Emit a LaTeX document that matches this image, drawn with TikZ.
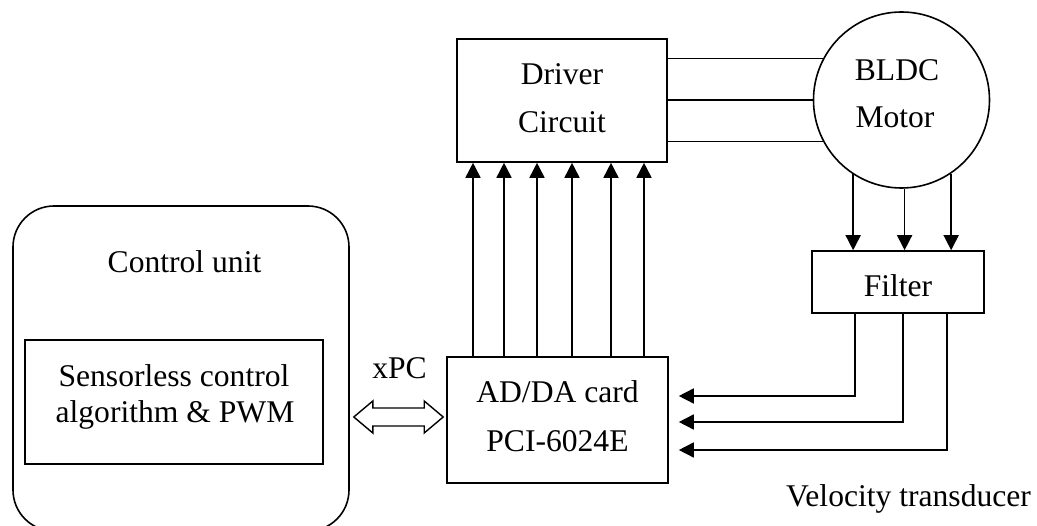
\documentclass[tikz,border=0pt]{standalone}
\usepackage{fontspec}
\setmainfont{Liberation Serif}
\usetikzlibrary{arrows.meta,calc}
\begin{document}
\begin{tikzpicture}[x=1pt,y=-1pt,
  box/.style={draw,line width=1.6pt,rectangle,inner sep=0pt},
  lbl/.style={anchor=base,inner sep=0pt,font=\fontsize{31.6}{37}\selectfont},
  arr/.style={line width=1.6pt,-{Triangle[length=15pt,width=15pt]}},
  wire/.style={line width=1.6pt}]
\useasboundingbox (0,0) rectangle (1037,526);
\begin{scope}
\clip (0,0) rectangle (1037,526);
\node[box,rounded corners=41pt,minimum width=336pt,minimum height=325pt] (ctrl) at (181,368.5) {};
\end{scope}
\node[box,minimum width=298pt,minimum height=124pt] (alg) at (174,402) {};
\node[box,minimum width=210pt,minimum height=123pt] (drv) at (562,100.5) {};
\node[box,minimum width=221pt,minimum height=126pt] (ad) at (557.5,420) {};
\node[box,minimum width=172pt,minimum height=62pt] (filter) at (898,282) {};
\node[draw,line width=1.6pt,circle,minimum size=176pt,inner sep=0pt] (motor) at (901.5,100) {};
% texts
\node[lbl] (tctrl) at (184.5,273) {Control unit};
\node[lbl] (talg1) at (174,387) {Sensorless control};
\node[lbl] (talg2) at (175,423) {algorithm \& PWM};
\node[lbl] (tdrv1) at (562,85) {Driver};
\node[lbl] (tdrv2) at (562,133) {Circuit};
\node[lbl] (tmot1) at (897,81) {BLDC};
\node[lbl] (tmot2) at (895,128) {Motor};
\node[lbl] (tfil) at (898,297) {Filter};
\node[lbl] (tad1) at (557.5,403) {AD/DA card};
\node[lbl] (tad2) at (557.5,452) {PCI-6024E};
\node[lbl] (txpc) at (399.5,379) {xPC};
\node[lbl] (tvel) at (908.5,507) {Velocity transducer};
% driver to motor
\foreach \a in {152.2,180,208.5}
  \draw[wire] (drv.east |- motor.\a) -- (motor.\a);
% motor to filter
\foreach \a in {-123.4,-88,-56.6}
  \draw[arr] (motor.\a) -- (motor.\a |- filter.north);
% AD/DA to driver
\foreach \x in {473,504,537,572,611,644}
  \draw[arr] (\x,0 |- ad.north) -- (\x,0 |- drv.south);
% filter to AD/DA
\coordinate (adin) at ([xshift=10pt]ad.east);
\draw[arr] (855,0 |- filter.south) |- (adin |- 0,396);
\draw[arr] (903,0 |- filter.south) |- (adin |- 0,422);
\draw[arr] (947,0 |- filter.south) |- (adin |- 0,450);
% double arrow xPC
\coordinate (dl) at ([xshift=4pt]ctrl.east |- 0,417);
\coordinate (dr) at ([xshift=-3pt]ad.west |- 0,417);
\draw[line width=1.4pt,line join=miter] (dl) -- ++(19,-16) -- ++(0,7) -- ($(dr)+(-19,-9)$) -- ++(0,-7) -- (dr)
  -- ++(-19,16) -- ++(0,-7) -- ($(dl)+(19,9)$) -- ++(0,7) -- cycle;
\end{tikzpicture}
\end{document}
